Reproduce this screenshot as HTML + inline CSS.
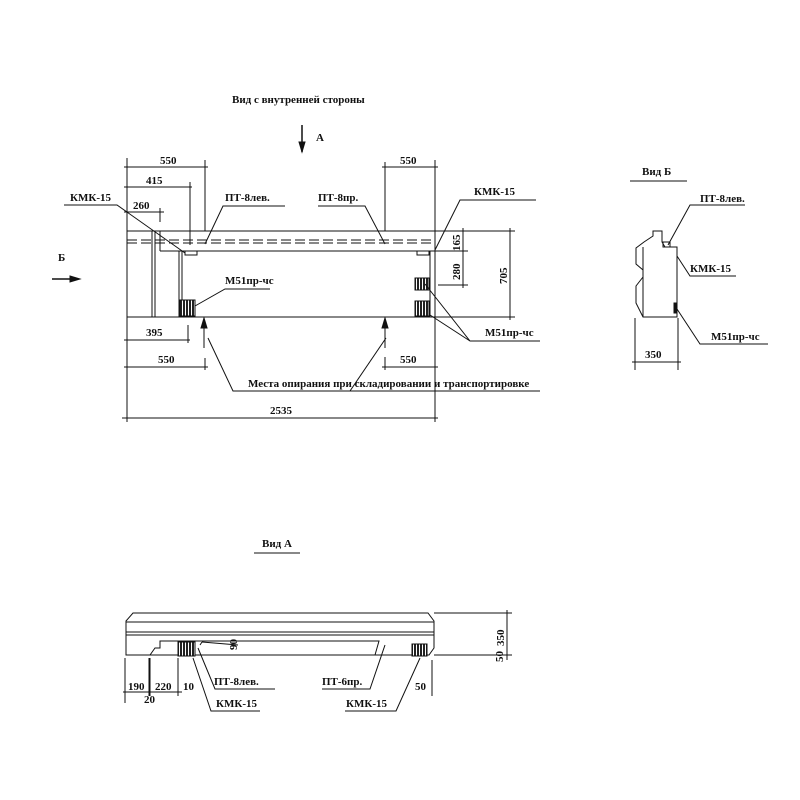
<!DOCTYPE html>
<html><head><meta charset="utf-8"><style>
html,body{margin:0;padding:0;background:#fff}
svg{display:block}
text{font-family:"Liberation Serif",serif;font-size:11px;fill:#111;font-weight:bold}
</style></head><body>
<svg width="800" height="800" viewBox="0 0 800 800" xmlns="http://www.w3.org/2000/svg">
<defs>
<marker id="ar" markerWidth="8" markerHeight="8" refX="4" refY="8" orient="auto"><path d="M2,0 L4,8 L6,0 Z" fill="#111"/></marker>
<pattern id="h" width="3" height="3" patternUnits="userSpaceOnUse"><rect width="3" height="3" fill="#fff"/><rect width="2" height="3" fill="#222"/></pattern>
</defs>
<g stroke="#111" stroke-width="1" fill="none">
<!-- title -->
<text x="232" y="103" stroke="none">Вид с внутренней стороны</text>
<line x1="302" y1="125" x2="302" y2="152" stroke-width="1.5"/>
<path d="M299,142 L302,152 L305,142Z" fill="#111"/>
<text x="316" y="141" stroke="none">А</text>
<text x="58" y="261" stroke="none">Б</text>
<line x1="52" y1="279" x2="78" y2="279" stroke-width="1.5"/>
<path d="M70,276 L80,279 L70,282Z" fill="#111"/>

<!-- main body -->
<rect x="127" y="231" width="308" height="86"/>
<line x1="160" y1="251" x2="435" y2="251"/>
<line x1="160" y1="231" x2="160" y2="251"/>
<line x1="152" y1="231" x2="152" y2="317"/>
<line x1="155" y1="231" x2="155" y2="317"/>
<line x1="179" y1="251" x2="179" y2="317"/>
<line x1="182" y1="251" x2="182" y2="317"/>
<line x1="430" y1="251" x2="430" y2="317"/>
<line x1="127" y1="240" x2="435" y2="240" stroke-dasharray="10,4"/>
<line x1="127" y1="243" x2="435" y2="243" stroke-dasharray="10,4"/>
<rect x="180" y="300" width="15" height="16" fill="url(#h)"/>
<rect x="415" y="278" width="14" height="12" fill="url(#h)"/>
<rect x="415" y="301" width="14" height="15" fill="url(#h)"/>
<rect x="185" y="251" width="12" height="4"/>
<rect x="417" y="251" width="12" height="4"/>

<!-- top dims -->
<line x1="127" y1="158" x2="127" y2="422"/>
<line x1="124" y1="167" x2="208" y2="167"/>
<line x1="205" y1="160" x2="205" y2="231"/>
<line x1="124" y1="187" x2="192" y2="187"/>
<line x1="190" y1="182" x2="190" y2="245"/>
<line x1="124" y1="212" x2="164" y2="212"/>
<line x1="160" y1="208" x2="160" y2="222"/>
<text x="160" y="164" stroke="none">550</text>
<text x="146" y="184" stroke="none">415</text>
<text x="133" y="209" stroke="none">260</text>
<line x1="382" y1="167" x2="438" y2="167"/>
<line x1="385" y1="162" x2="385" y2="231"/>
<line x1="435" y1="160" x2="435" y2="422"/>
<text x="400" y="164" stroke="none">550</text>

<!-- right dims -->
<line x1="435" y1="231" x2="515" y2="231"/>
<line x1="435" y1="317" x2="515" y2="317"/>
<line x1="435" y1="251" x2="468" y2="251"/>
<line x1="438" y1="285" x2="468" y2="285"/>
<line x1="463" y1="228" x2="463" y2="288"/>
<line x1="510" y1="228" x2="510" y2="320"/>
<text transform="translate(460,251) rotate(-90)" stroke="none">165</text>
<text transform="translate(460,280) rotate(-90)" stroke="none">280</text>
<text transform="translate(507,284) rotate(-90)" stroke="none">705</text>

<!-- bottom dims -->
<line x1="124" y1="340" x2="190" y2="340"/>
<line x1="188" y1="325" x2="188" y2="343"/>
<text x="146" y="336" stroke="none">395</text>
<line x1="124" y1="367" x2="208" y2="367"/>
<line x1="205" y1="358" x2="205" y2="370"/>
<text x="158" y="363" stroke="none">550</text>
<line x1="382" y1="367" x2="438" y2="367"/>
<line x1="385" y1="357" x2="385" y2="370"/>
<text x="400" y="363" stroke="none">550</text>
<line x1="122" y1="418" x2="438" y2="418"/>
<text x="270" y="414" stroke="none">2535</text>

<!-- support arrows -->
<line x1="204" y1="348" x2="204" y2="319"/>
<path d="M201,328 L204,318 L207,328Z" fill="#111"/>
<line x1="385" y1="348" x2="385" y2="319"/>
<path d="M382,328 L385,318 L388,328Z" fill="#111"/>
<path d="M208,338 L233,391 L540,391"/>
<path d="M386,338 L350,391"/>
<text x="248" y="387" stroke="none">Места опирания при складировании и транспортировке</text>

<!-- labels -->
<text x="70" y="201" stroke="none">КМК-15</text>
<path d="M64,205 L117,205 L185,253"/>
<text x="225" y="201" stroke="none">ПТ-8лев.</text>
<path d="M285,206 L223,206 L205,244"/>
<text x="318" y="201" stroke="none">ПТ-8пр.</text>
<path d="M318,206 L365,206 L385,244"/>
<text x="474" y="195" stroke="none">КМК-15</text>
<path d="M536,200 L460,200 L435,250"/>
<text x="225" y="284" stroke="none">М51пр-чс</text>
<path d="M270,289 L225,289 L195,306"/>
<text x="485" y="336" stroke="none">М51пр-чс</text>
<path d="M540,341 L470,341 L425,284 M470,341 L430,315"/>

<!-- Вид Б -->
<text x="642" y="175" stroke="none">Вид Б</text>
<line x1="630" y1="181" x2="687" y2="181"/>
<path d="M644,242 L653,236 L653,231 L662,231 L662,242 L665,247 L677,247 L677,317 L643,317 L636,303 L636,286 L643,277 L643,270 L636,264 L636,248 Z"/>
<line x1="643" y1="247" x2="643" y2="317"/>
<rect x="663" y="242" width="7" height="5"/>
<rect x="674" y="303" width="3" height="10" fill="#111"/>
<text x="700" y="202" stroke="none">ПТ-8лев.</text>
<path d="M745,205 L690,205 L668,245"/>
<text x="690" y="272" stroke="none">КМК-15</text>
<path d="M736,276 L690,276 L677,256"/>
<text x="711" y="340" stroke="none">М51пр-чс</text>
<path d="M768,344 L700,344 L677,309"/>
<line x1="635" y1="318" x2="635" y2="370"/>
<line x1="678" y1="318" x2="678" y2="370"/>
<line x1="632" y1="362" x2="681" y2="362"/>
<text x="645" y="358" stroke="none">350</text>

<!-- Вид А -->
<text x="262" y="547" stroke="none">Вид А</text>
<line x1="254" y1="553" x2="300" y2="553"/>
<path d="M126,621 L133,613 L428,613 L434,621 L434,648 L429,655 L126,655 Z"/>
<line x1="126" y1="622" x2="434" y2="622"/>
<line x1="126" y1="632" x2="434" y2="632"/>
<line x1="126" y1="635" x2="434" y2="635"/>
<path d="M126,655 L150,655 L155,648 L160,648 L160,641 L379,641 L375,655"/>
<rect x="178" y="642" width="17" height="14" fill="url(#h)"/>
<rect x="412" y="644" width="15" height="12" fill="url(#h)"/>
<path d="M200,645 L202,642 M202,642 L238,645"/>
<text transform="translate(237,650) rotate(-90)" stroke="none" font-size="10">90</text>
<line x1="434" y1="613" x2="512" y2="613"/>
<line x1="434" y1="655" x2="512" y2="655"/>
<line x1="507" y1="610" x2="507" y2="660"/>
<text transform="translate(504,646) rotate(-90)" stroke="none">350</text>
<text transform="translate(503,662) rotate(-90)" stroke="none" font-size="10">50</text>
<!-- bottom A dims -->
<line x1="125" y1="658" x2="125" y2="703"/>
<line x1="149" y1="658" x2="149" y2="696"/>
<line x1="150" y1="658" x2="150" y2="696"/>
<line x1="178" y1="658" x2="178" y2="696"/>
<line x1="123" y1="692" x2="182" y2="692"/>
<text x="128" y="690" stroke="none">190</text>
<text x="155" y="690" stroke="none">220</text>
<text x="183" y="690" stroke="none">10</text>
<text x="144" y="703" stroke="none">20</text>
<text x="415" y="690" stroke="none">50</text>
<line x1="432" y1="660" x2="432" y2="696"/>
<text x="214" y="685" stroke="none">ПТ-8лев.</text>
<path d="M275,689 L215,689 L198,648"/>
<text x="322" y="685" stroke="none">ПТ-6пр.</text>
<path d="M322,689 L370,689 L385,645"/>
<text x="216" y="707" stroke="none">КМК-15</text>
<path d="M260,711 L211,711 L193,658"/>
<text x="346" y="707" stroke="none">КМК-15</text>
<path d="M345,711 L396,711 L420,658"/>
</g>
</svg>
</body></html>
